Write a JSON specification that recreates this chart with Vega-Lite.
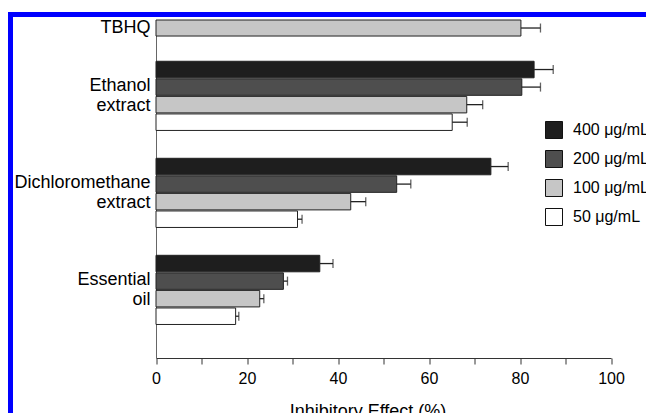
{
  "$schema": "https://vega.github.io/schema/vega-lite/v6.json",
  "width": 635.5,
  "height": 398.5,
  "autosize": {"type": "none"},
  "padding": {"left": 10.5, "top": 14.5, "right": 0, "bottom": 0},
  "background": "white",
  "config": {
    "view": {"fill": "white", "stroke": "#0000ff", "strokeWidth": 5, "strokeCap": "square", "strokeDash": [635.5, 1034, 398.5, 0]},
    "font": "Liberation Sans",
    "axis": {"labelFont": "Liberation Sans", "titleFont": "Liberation Sans", "labelColor": "#000", "titleColor": "#000", "grid": false},
    "legend": {"labelFont": "Liberation Sans"}
  },
  "resolve": {"scale": {"y": "independent"}, "axis": {"y": "independent"}},
  "layer": [
    {
      "data": {"values": [
        {"sample": "TBHQ", "conc": "100 μg/mL", "value": 80.2, "hi": 84.5}
      ]},
      "encoding": {
        "y": {
          "field": "sample", "type": "nominal",
          "scale": {"range": [5.5, 35], "paddingInner": 0, "paddingOuter": 0.42, "align": 0},
          "axis": {"orient": "left", "offset": -145.5, "ticks": false, "domainColor": "#666", "domainWidth": 1, "labelFontSize": 18, "labelPadding": 6, "title": null, "labelExpr": "split(datum.label, ' ')", "labelLineHeight": 20}
        }
      },
      "layer": [
        {
          "mark": {"type": "bar", "stroke": "#222", "strokeWidth": 1},
          "encoding": {
            "x": {"field": "value", "type": "quantitative", "title": "Inhibitory Effect (%)", "scale": {"domain": [0, 100], "range": [145.5, 600.5], "nice": false}},
            "color": {
              "field": "conc", "type": "nominal",
              "scale": {"domain": ["400 μg/mL", "200 μg/mL", "100 μg/mL", "50 μg/mL"], "range": ["#1e1e1e", "#4e4e4e", "#c6c6c6", "#ffffff"]},
              "legend": {"orient": "none", "legendX": 534.5, "legendY": 106.5, "title": null, "symbolType": "square", "symbolSize": 289, "symbolStrokeColor": "#111", "symbolStrokeWidth": 1, "labelFontSize": 16, "labelColor": "#000", "labelOffset": 10, "rowPadding": 7, "padding": 0, "labelLimit": 200}
            }
          }
        },
        {
          "mark": {"type": "rule", "color": "#222", "strokeWidth": 1.3},
          "encoding": {
            "x": {"field": "value", "type": "quantitative", "title": "Inhibitory Effect (%)", "scale": {"domain": [0, 100], "range": [145.5, 600.5], "nice": false}},
            "x2": {"field": "hi"}
          }
        },
        {
          "mark": {"type": "tick", "color": "#222", "size": 9, "thickness": 1.3, "orient": "vertical"},
          "encoding": {
            "x": {"field": "hi", "type": "quantitative", "title": "Inhibitory Effect (%)", "scale": {"domain": [0, 100], "range": [145.5, 600.5], "nice": false}}
          }
        }
      ]
    },
    {
      "data": {"values": [
        {"sample": "Ethanol extract", "conc": "400 μg/mL", "value": 83.1, "hi": 87.3},
        {"sample": "Ethanol extract", "conc": "200 μg/mL", "value": 80.4, "hi": 84.5},
        {"sample": "Ethanol extract", "conc": "100 μg/mL", "value": 68.3, "hi": 71.8},
        {"sample": "Ethanol extract", "conc": "50 μg/mL", "value": 65.1, "hi": 68.4},
        {"sample": "Dichloromethane extract", "conc": "400 μg/mL", "value": 73.6, "hi": 77.4},
        {"sample": "Dichloromethane extract", "conc": "200 μg/mL", "value": 52.9, "hi": 56.0},
        {"sample": "Dichloromethane extract", "conc": "100 μg/mL", "value": 42.8, "hi": 46.1},
        {"sample": "Dichloromethane extract", "conc": "50 μg/mL", "value": 31.1, "hi": 32.1},
        {"sample": "Essential oil", "conc": "400 μg/mL", "value": 36.0, "hi": 38.9},
        {"sample": "Essential oil", "conc": "200 μg/mL", "value": 28.0, "hi": 28.9},
        {"sample": "Essential oil", "conc": "100 μg/mL", "value": 22.8, "hi": 23.7},
        {"sample": "Essential oil", "conc": "50 μg/mL", "value": 17.5, "hi": 18.2}
      ]},
      "encoding": {
        "y": {
          "field": "sample", "type": "nominal",
          "sort": ["Ethanol extract", "Dichloromethane extract", "Essential oil"],
          "scale": {"range": [35, 343.5], "paddingInner": 0.287, "paddingOuter": 0.2335, "align": 0.26},
          "axis": {"orient": "left", "offset": -145.5, "ticks": false, "domainColor": "#666", "domainWidth": 1, "labelFontSize": 18, "labelPadding": 6, "labelOffset": -10, "title": null, "labelExpr": "split(datum.label, ' ')", "labelLineHeight": 20}
        },
        "yOffset": {"field": "conc", "type": "nominal", "scale": {"domain": ["400 μg/mL", "200 μg/mL", "100 μg/mL", "50 μg/mL"], "paddingInner": 0.06}}
      },
      "layer": [
        {
          "mark": {"type": "bar", "stroke": "#222", "strokeWidth": 1},
          "encoding": {
            "x": {
              "field": "value", "type": "quantitative", "title": "Inhibitory Effect (%)",
              "scale": {"domain": [0, 100], "range": [145.5, 600.5], "nice": false},
              "axis": {"orient": "bottom", "offset": -55, "values": [0, 10, 20, 30, 40, 50, 60, 70, 80, 90, 100], "labelExpr": "datum.value % 20 == 0 ? datum.label : ''", "labelFlush": false, "tickSize": 6, "tickColor": "#333", "domainColor": "#333", "domainWidth": 1.2, "labelFontSize": 16, "labelPadding": 6, "titleFontSize": 18, "titleFontWeight": "normal", "titleX": 357, "titleY": 44, "titleBaseline": "top"}
            },
            "color": {
              "field": "conc", "type": "nominal",
              "scale": {"domain": ["400 μg/mL", "200 μg/mL", "100 μg/mL", "50 μg/mL"], "range": ["#1e1e1e", "#4e4e4e", "#c6c6c6", "#ffffff"]},
              "legend": {"orient": "none", "legendX": 534.5, "legendY": 106.5, "title": null, "symbolType": "square", "symbolSize": 289, "symbolStrokeColor": "#111", "symbolStrokeWidth": 1, "labelFontSize": 16, "labelColor": "#000", "labelOffset": 10, "rowPadding": 7, "padding": 0, "labelLimit": 200}
            }
          }
        },
        {
          "mark": {"type": "rule", "color": "#222", "strokeWidth": 1.3},
          "encoding": {
            "x": {"field": "value", "type": "quantitative", "title": "Inhibitory Effect (%)", "scale": {"domain": [0, 100], "range": [145.5, 600.5], "nice": false}},
            "x2": {"field": "hi"}
          }
        },
        {
          "mark": {"type": "tick", "color": "#222", "size": 9, "thickness": 1.3, "orient": "vertical"},
          "encoding": {
            "x": {"field": "hi", "type": "quantitative", "title": "Inhibitory Effect (%)", "scale": {"domain": [0, 100], "range": [145.5, 600.5], "nice": false}}
          }
        }
      ]
    }
  ]
}
